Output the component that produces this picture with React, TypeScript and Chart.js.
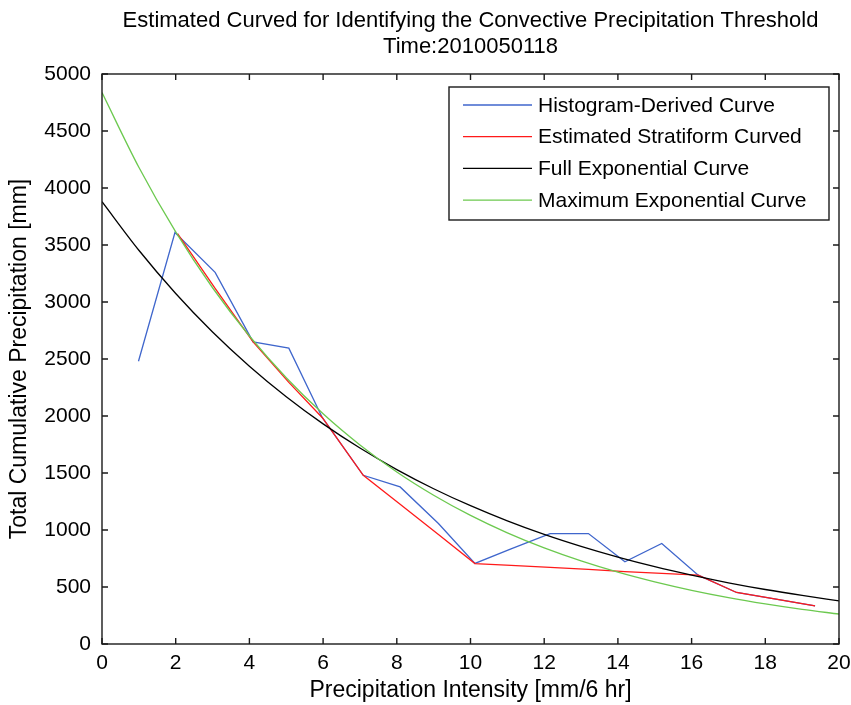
import React, { useEffect, useRef } from "react";
import { Chart, registerables } from "chart.js";

Chart.register(...registerables);

const TITLE_LINES = [
  "Estimated Curved for Identifying the Convective Precipitation Threshold",
  "Time:2010050118",
];
const X_LABEL = "Precipitation Intensity [mm/6 hr]";
const Y_LABEL = "Total Cumulative Precipitation [mm]";
const X_TICKS = [0, 2, 4, 6, 8, 10, 12, 14, 16, 18, 20];
const Y_TICKS = [0, 500, 1000, 1500, 2000, 2500, 3000, 3500, 4000, 4500, 5000];

const SERIES_NAMES = [
  "Histogram-Derived Curve",
  "Estimated Stratiform Curved",
  "Full Exponential Curve",
  "Maximum Exponential Curve",
];
const SERIES_COLORS = ["#3f66cc", "#ff1a1a", "#000000", "#6cc94f"];

const histX = [0.99, 1.98, 3.07, 4.1, 5.07, 5.98, 7.09, 8.09, 9.13, 10.12, 11.1, 12.16, 13.2, 14.19, 15.19, 16.18, 17.22, 18.25, 19.35];
const histY = [2480, 3610, 3260, 2650, 2595, 1985, 1480, 1378, 1057, 707, 835, 969, 969, 721, 882, 604, 452, 395, 335];

const stratX = [2.05, 3.07, 4.1, 5.07, 5.98, 7.09, 8.09, 9.13, 10.12, 11.1, 12.16, 13.2, 14.19, 15.19, 16.18, 17.22, 18.25, 19.35];
const stratY = [3600, 3120, 2650, 2295, 1985, 1480, 1225, 960, 705, 690, 672, 655, 635, 620, 604, 452, 395, 335];

const fullX = [0, 1, 2, 3, 4, 5, 6, 7, 8, 9, 10, 11, 12, 13, 14, 15, 16, 17, 18, 19, 20];
const fullY = [3880, 3454, 3075, 2737, 2437, 2169, 1931, 1719, 1530, 1362, 1213, 1080, 961, 856, 762, 678, 604, 537, 478, 426, 379];

const maxX = [0, 1, 2, 3, 4, 5, 6, 7, 8, 9, 10, 11, 12, 13, 14, 15, 16, 17, 18, 19, 20];
const maxY = [4837, 4182, 3615, 3125, 2702, 2336, 2019, 1746, 1509, 1305, 1128, 975, 843, 729, 630, 545, 471, 407, 352, 304, 263];

const FONT_FAMILY = "'Liberation Sans', Arial, sans-serif";
const FONT_SIZE = 21;
const TITLE_SIZE = 22;
const AXIS_TITLE_SIZE = 23;

const zip = (xs: number[], ys: number[]) => xs.map((x, i) => ({ x, y: ys[i] }));

const decorPlugin = {
  id: "decor",
  afterDraw(chart: any) {
    const { ctx, chartArea, scales } = chart;
    const { left, right, top, bottom } = chartArea;
    const xs = scales.x;
    const ys = scales.y;
    ctx.save();
    ctx.strokeStyle = "#1a1a1a";
    ctx.lineWidth = 1.4;
    ctx.strokeRect(left, top, right - left, bottom - top);
    const tl = 6;
    ctx.beginPath();
    X_TICKS.forEach((v) => {
      const px = xs.getPixelForValue(v);
      ctx.moveTo(px, bottom);
      ctx.lineTo(px, bottom - tl);
      ctx.moveTo(px, top);
      ctx.lineTo(px, top + tl);
    });
    Y_TICKS.forEach((v) => {
      const py = ys.getPixelForValue(v);
      ctx.moveTo(left, py);
      ctx.lineTo(left + tl, py);
      ctx.moveTo(right, py);
      ctx.lineTo(right - tl, py);
    });
    ctx.stroke();

    ctx.fillStyle = "#000";
    ctx.font = `${TITLE_SIZE}px ${FONT_FAMILY}`;
    ctx.textAlign = "center";
    ctx.textBaseline = "middle";
    const cx = (left + right) / 2;
    ctx.fillText(TITLE_LINES[0], cx, 21);
    ctx.fillText(TITLE_LINES[1], cx, 47);

    ctx.font = `${FONT_SIZE}px ${FONT_FAMILY}`;
    const bx0 = right - 390;
    const bx1 = right - 10;
    const by0 = top + 13;
    const by1 = top + 146;
    ctx.fillStyle = "#fff";
    ctx.fillRect(bx0, by0, bx1 - bx0, by1 - by0);
    ctx.strokeStyle = "#1a1a1a";
    ctx.lineWidth = 1.4;
    ctx.strokeRect(bx0, by0, bx1 - bx0, by1 - by0);
    ctx.textAlign = "left";
    SERIES_NAMES.forEach((name, i) => {
      const yy = by0 + 18 + i * 31.7;
      ctx.strokeStyle = SERIES_COLORS[i];
      ctx.lineWidth = 1.3;
      ctx.beginPath();
      ctx.moveTo(bx0 + 14, yy);
      ctx.lineTo(bx0 + 83, yy);
      ctx.stroke();
      ctx.fillStyle = "#000";
      ctx.fillText(name, bx0 + 89, yy + 1);
    });
    ctx.restore();
  },
};

export default function App() {
  const ref = useRef<HTMLCanvasElement | null>(null);
  useEffect(() => {
    document.body.style.margin = "0";
    const canvas = ref.current;
    if (!canvas) return;
    const font = { family: FONT_FAMILY, size: FONT_SIZE };
    const titleFont = { family: FONT_FAMILY, size: AXIS_TITLE_SIZE };
    const mk = (label: string, data: any[], color: string, order: number) => ({
      label,
      data,
      borderColor: color,
      backgroundColor: color,
      borderWidth: 1.3,
      pointRadius: 0,
      pointHoverRadius: 0,
      tension: 0,
      fill: false,
      order,
    });
    const chart = new Chart(canvas, {
      type: "line",
      data: {
        datasets: [
          mk(SERIES_NAMES[0], zip(histX, histY), SERIES_COLORS[0], 3),
          mk(SERIES_NAMES[1], zip(stratX, stratY), SERIES_COLORS[1], 2),
          { ...mk(SERIES_NAMES[2], zip(fullX, fullY), SERIES_COLORS[2], 1), tension: 0.4, cubicInterpolationMode: "monotone" },
          { ...mk(SERIES_NAMES[3], zip(maxX, maxY), SERIES_COLORS[3], 0), tension: 0.4, cubicInterpolationMode: "monotone" },
        ] as any,
      },
      options: {
        animation: false,
        responsive: true,
        maintainAspectRatio: false,
        layout: { padding: { top: 74, right: 12, left: 0, bottom: 0 } },
        plugins: {
          legend: { display: false },
          title: { display: false },
          tooltip: { enabled: false },
        },
        scales: {
          x: {
            type: "linear",
            min: 0,
            max: 20,
            afterBuildTicks: (s: any) => {
              s.ticks = X_TICKS.map((v) => ({ value: v }));
            },
            afterFit: (s: any) => {
              s.height = 61;
              s.paddingLeft = 0;
              s.paddingRight = 0;
            },
            grid: { display: false, drawTicks: false },
            border: { display: false },
            ticks: { color: "#000", font, padding: 7, maxRotation: 0, autoSkip: false, callback: (v: any) => String(v) },
            title: { display: true, text: X_LABEL, color: "#000", font: titleFont, padding: { top: 0, bottom: 0.5 } },
          },
          y: {
            type: "linear",
            min: 0,
            max: 5000,
            afterBuildTicks: (s: any) => {
              s.ticks = Y_TICKS.map((v) => ({ value: v }));
            },
            afterFit: (s: any) => {
              s.width = 102;
              s.paddingTop = 0;
              s.paddingBottom = 0;
            },
            grid: { display: false, drawTicks: false },
            border: { display: false },
            ticks: { color: "#000", font, padding: 11, autoSkip: false, callback: (v: any) => String(v) },
            title: { display: true, text: Y_LABEL, color: "#000", font: titleFont, padding: { top: 6, bottom: 0 } },
          },
        },
      },
      plugins: [decorPlugin],
    } as any);
    return () => chart.destroy();
  }, []);
  return (
    <div style={{ position: "absolute", left: 0, top: 0, width: 851, height: 705, background: "#fff" }}>
      <canvas ref={ref} />
    </div>
  );
}
